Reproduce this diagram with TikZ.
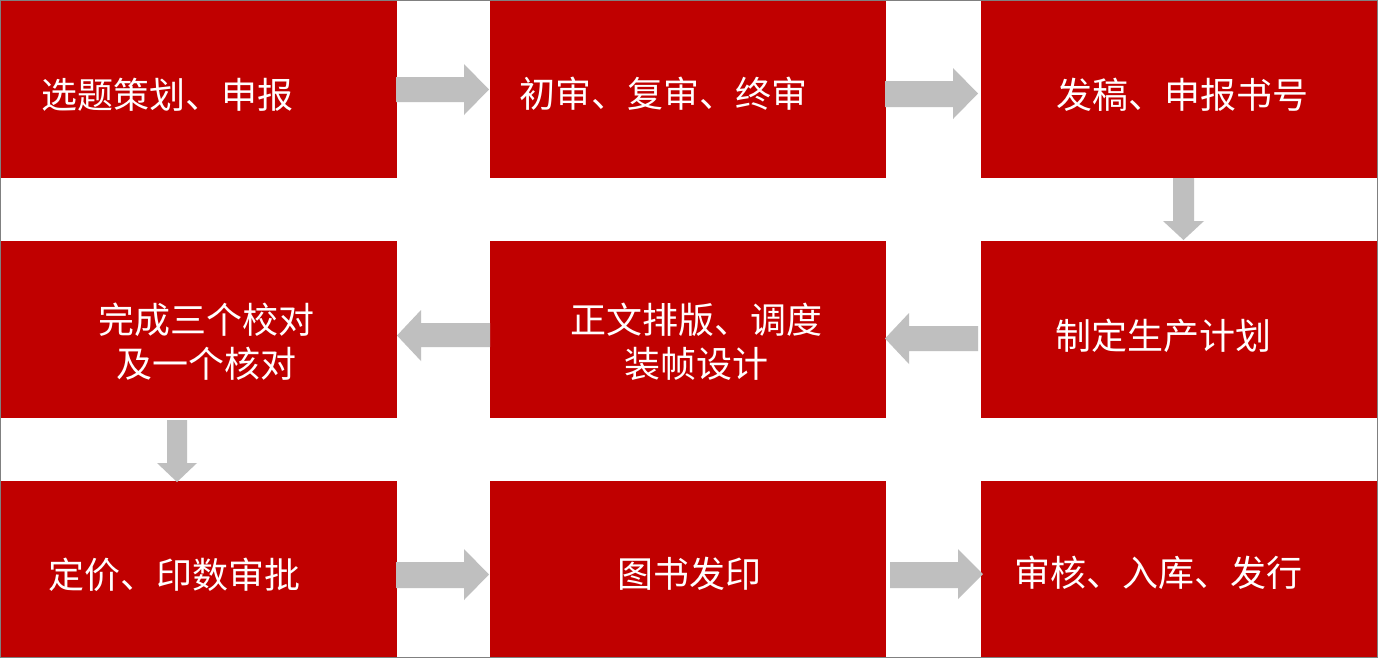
\documentclass[tikz,border=0pt]{standalone}
\usepackage{fontspec}
\newfontfamily\cjk{Noto Sans CJK SC}
\definecolor{boxred}{RGB}{192,0,0}
\definecolor{arrowgray}{RGB}{191,191,191}
\definecolor{framegray}{RGB}{128,128,128}
\begin{document}
\begin{tikzpicture}[x=0.75pt,y=-0.75pt,
  box/.style={fill=boxred, draw=none, inner sep=0pt, minimum width=297pt, minimum height=132.75pt},
  lbl/.style={text=white, font=\cjk\fontsize{27pt}{33pt}\selectfont, inner sep=0pt, align=center},
  blockarrow/.style={fill=arrowgray, draw=none}]
\fill[white] (0,0) rectangle (1378,658);
\useasboundingbox (0,0) rectangle (1378,658);
% boxes
\node[box] (b1) at (198.5,89.5) {};
\node[box] (b2) at (688,89.5) {};
\node[box] (b3) at (1179,89.5) {};
\node[box] (b4) at (198.5,329.5) {};
\node[box] (b5) at (688,329.5) {};
\node[box] (b6) at (1179,329.5) {};
\node[box] (b7) at (198.5,569) {};
\node[box] (b8) at (688,569) {};
\node[box] (b9) at (1179,569) {};
% labels
\node[lbl] (t1) at (167,95) {选题策划、申报};
\node[lbl] (t2) at (663,94) {初审、复审、终审};
\node[lbl] (t3) at (1182,95) {发稿、申报书号};
\node[lbl] (t4) at (206,342) {完成三个校对\\及一个核对};
\node[lbl] (t5) at (696,341.5) {正文排版、调度\\装帧设计};
\node[lbl] (t6) at (1163,336) {制定生产计划};
\node[lbl] (t7) at (174,575) {定价、印数审批};
\node[lbl] (t8) at (689,574) {图书发印};
\node[lbl] (t9) at (1158,573) {审核、入库、发行};
% block arrows
\fill[blockarrow] (396,77) -- (464,77) -- (464,64) -- (489,89.5) -- (464,115) -- (464,102) -- (396,102) -- cycle;
\fill[blockarrow] (885,81) -- (953,81) -- (953,68) -- (978,93.5) -- (953,119) -- (953,107) -- (885,107) -- cycle;
\fill[blockarrow] (1173,178) -- (1194,178) -- (1194,221) -- (1204,221) -- (1183.5,240) -- (1163,221) -- (1173,221) -- cycle;
\fill[blockarrow] (978,326) -- (909,326) -- (909,313) -- (885,338.5) -- (909,364) -- (909,351) -- (978,351) -- cycle;
\fill[blockarrow] (490,323) -- (421,323) -- (421,310) -- (397,335.5) -- (421,361) -- (421,347) -- (490,347) -- cycle;
\fill[blockarrow] (167,420) -- (187,420) -- (187,463) -- (197,463) -- (177,482) -- (157,463) -- (167,463) -- cycle;
\fill[blockarrow] (396,562) -- (464,562) -- (464,549) -- (489,574.5) -- (464,600) -- (464,588) -- (396,588) -- cycle;
\fill[blockarrow] (890,562) -- (958,562) -- (958,549) -- (983,574) -- (958,599) -- (958,588) -- (890,588) -- cycle;
% frame
\draw[framegray, line width=0.75pt] (0.5,0.5) rectangle (1377.5,657.5);
\end{tikzpicture}
\end{document}
